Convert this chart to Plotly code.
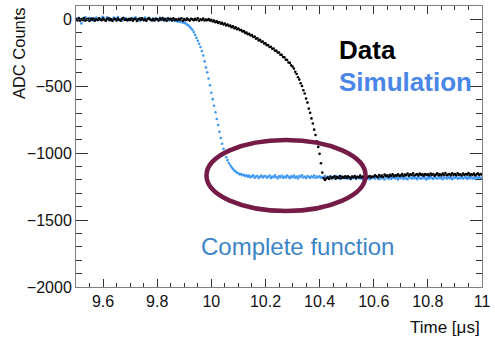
import plotly.graph_objects as go

# ---- data ----
T_START = 9.5
T_STEP = 0.005

data_counts = [
    3, -6, 8, -10, 2, -4, 10, -8, 0, 5, -12, 4, -3, 7, -9, 1, -5, 9, -2, -7,
    6, -4, -10, 3, 8, -6, 0, -11, 5, 2, -8, 7, -3, -9, 4, 10, -5, 1, -7, 3,
    -4, 7, -9, 2, 5, -12, 0, 6, -3, 9, -7, 1, -10, 4, 8, -2, -6, 3, -8, 5,
    0, -9, 6, -3, 10, -5, 2, -11, 7, -1, 4, -8, 9, -4, 1, -7, 5, -2, 8, -10,
    3, -6, 7, -2, -9, 5, 0, -7, 4, -4, 8, -10, 1, -5, 6, -8, -1, -6, 2, -9,
    -4, -16, -9, -22, -15, -27, -20, -33, -26, -38, -31, -45, -39, -50, -46, -58, -52, -66, -60, -73,
    -68, -80, -79, -91, -88, -101, -98, -111, -108, -121, -118, -132, -129, -144, -141, -157, -152, -168, -165, -180,
    -179, -193, -192, -206, -204, -220, -218, -234, -233, -248, -247, -264, -265, -282, -283, -301, -303, -322, -325, -344,
    -352, -368, -392, -408, -433, -450, -477, -498, -530, -554, -592, -622, -667, -698, -740, -778, -824, -864, -912, -953,
    -1005, -1075, -1145, -1186, -1200, -1190, -1182, -1193, -1176, -1188, -1180, -1172, -1190, -1179, -1185, -1170, -1187, -1177, -1183, -1172,
    -1185, -1172, -1180, -1189, -1174, -1182, -1170, -1186, -1176, -1181, -1168, -1184, -1175, -1179, -1171, -1186, -1177, -1170, -1182, -1174,
    -1176, -1165, -1172, -1180, -1163, -1174, -1168, -1178, -1160, -1171, -1166, -1176, -1162, -1170, -1158, -1173, -1165, -1168, -1157, -1170,
    -1166, -1155, -1170, -1160, -1164, -1152, -1168, -1158, -1163, -1150, -1167, -1161, -1155, -1166, -1153, -1162, -1158, -1169, -1156, -1163,
    -1158, -1167, -1152, -1163, -1155, -1168, -1160, -1150, -1164, -1157, -1166, -1153, -1161, -1148, -1165, -1159, -1155, -1166, -1151, -1162,
    -1156, -1165, -1150, -1161, -1158, -1167, -1152, -1163, -1155, -1160, -1149, -1164, -1157, -1162, -1153, -1166, -1158, -1151, -1163, -1156,
    -1160,
]

sim_counts = [
    5, -8, 12, -3, -30, 7, -10, 15, 2, -6, 10, -4, 8, -12, 3, 14, -7, 6, -2, 11,
    20, 4, -9, 16, -5, 9, 1, -11, 13, -3, 7, 18, -6, 2, -10, 12, -1, 8, -8, 5,
    -4, 10, -9, 6, 15, -7, 3, -12, 9, 0, -5, 13, -8, 4, 11, -2, -10, 7, -6, 9,
    2, -7, 12, -4, 8, -11, 5, -2, 10, -8, 3, -8, -5, -12, -10, -16, -14, -19, -18, -24,
    -26, -31, -38, -45, -55, -66, -78, -95, -115, -138, -160, -182, -206, -236, -270, -314, -360, -396, -442, -492,
    -548, -596, -646, -694, -744, -790, -840, -886, -930, -968, -1002, -1030, -1052, -1073, -1090, -1106, -1118, -1130, -1137, -1146,
    -1150, -1158, -1156, -1165, -1162, -1170, -1166, -1176, -1168, -1180, -1172, -1166, -1183, -1174, -1170, -1185, -1176, -1168, -1181, -1173,
    -1170, -1183, -1176, -1168, -1186, -1174, -1180, -1166, -1178, -1188, -1172, -1179, -1169, -1184, -1175, -1181, -1167, -1177, -1186, -1173,
    -1179, -1168, -1183, -1174, -1188, -1171, -1177, -1165, -1182, -1176, -1186, -1170, -1178, -1184, -1172, -1180, -1167, -1185, -1175, -1179,
    -1172, -1184, -1178, -1188, -1170, -1181, -1176, -1190, -1173, -1183, -1179, -1187, -1171, -1182, -1176, -1192, -1174, -1185, -1180, -1188,
    -1177, -1189, -1181, -1195, -1174, -1186, -1180, -1192, -1176, -1184, -1190, -1178, -1196, -1182, -1175, -1188, -1183, -1194, -1179, -1186,
    -1180, -1191, -1176, -1186, -1194, -1178, -1188, -1182, -1197, -1175, -1185, -1190, -1179, -1193, -1183, -1177, -1189, -1184, -1196, -1180,
    -1186, -1176, -1192, -1181, -1188, -1195, -1178, -1184, -1190, -1175, -1187, -1182, -1194, -1179, -1185, -1191, -1177, -1188, -1183, -1196,
    -1181, -1190, -1176, -1186, -1193, -1179, -1184, -1191, -1175, -1187, -1182, -1195, -1178, -1185, -1190, -1177, -1188, -1183, -1194, -1180,
    -1186, -1177, -1191, -1182, -1188, -1175, -1190, -1183, -1179, -1192, -1181, -1187, -1176, -1189, -1184, -1193, -1180, -1186, -1178, -1190,
    -1184,
]

time_us = [round(T_START + T_STEP * i, 3) for i in range(len(data_counts))]

x_tickvals = [9.6, 9.8, 10.0, 10.2, 10.4, 10.6, 10.8, 11.0]
x_ticktext = ["9.6", "9.8", "10", "10.2", "10.4", "10.6", "10.8", "11"]
y_tickvals = [0, -500, -1000, -1500, -2000]
y_ticktext = ["0", "\u2212500", "\u22121000", "\u22121500", "\u22122000"]

FONT = "Liberation Sans, Arial, Helvetica, sans-serif"
TICK_COLOR = "#333333"
LINE_COLOR = "#808080"

fig = go.Figure()
fig.add_trace(go.Scatter(
    x=time_us, y=sim_counts, mode="markers",
    marker=dict(size=2.6, color="#3f98f8", line=dict(width=0)),
    name="Simulation", showlegend=False,
))
fig.add_trace(go.Scatter(
    x=time_us, y=data_counts, mode="markers",
    marker=dict(size=2.6, color="#000000", line=dict(width=0)),
    name="Data", showlegend=False,
))

# highlighted region (ellipse)
fig.add_shape(type="circle", xref="x", yref="y",
              x0=9.982, x1=10.57, y0=-1432, y1=-901,
              line=dict(color="#741b47", width=4.5))

fig.add_annotation(text="<b>Data</b>", xref="paper", yref="paper",
                   x=(342 - 76) / 414, y=(287 - 50) / 281,
                   xanchor="left", yanchor="middle", showarrow=False,
                   font=dict(family=FONT, size=26, color="#000000"))
fig.add_annotation(text="<b>Simulation</b>", xref="paper", yref="paper",
                   x=(342 - 76) / 414, y=(287 - 82) / 281,
                   xanchor="left", yanchor="middle", showarrow=False,
                   font=dict(family=FONT, size=26, color="#4a86e8"))
fig.add_annotation(text="Complete function", xref="paper", yref="paper",
                   x=(201 - 76) / 414, y=(287 - 246) / 281,
                   xanchor="left", yanchor="middle", showarrow=False,
                   font=dict(family=FONT, size=24, color="#3d85c6"))
fig.add_annotation(text="ADC Counts", xref="paper", yref="paper",
                   x=(18 - 76) / 414, y=(287 - 5) / 281,
                   xanchor="center", yanchor="top", textangle=-90, showarrow=False,
                   font=dict(family=FONT, size=16.5, color="#111111"))
fig.add_annotation(text="Time [\u03bcs]", xref="paper", yref="paper",
                   x=1.0, y=(287 - 327) / 281,
                   xanchor="right", yanchor="middle", showarrow=False,
                   font=dict(family=FONT, size=17, color="#111111"))

fig.update_layout(
    width=495, height=341,
    margin=dict(l=76, r=5, t=6, b=54),
    paper_bgcolor="white", plot_bgcolor="white",
    font=dict(family=FONT, size=16, color="#111111"),
    xaxis=dict(range=[9.5, 11.0], tickmode="array", tickvals=x_tickvals, ticktext=x_ticktext,
               ticks="inside", ticklen=8, tickwidth=1, tickcolor=TICK_COLOR,
               showline=True, linecolor=LINE_COLOR, linewidth=1, mirror="ticks",
               showgrid=False, zeroline=False, ticklabeloverflow="allow",
               minor=dict(ticks="inside", ticklen=4, tick0=9.5, dtick=0.05,
                          tickcolor=TICK_COLOR, showgrid=False),
               tickfont=dict(family=FONT, size=16, color="#111111")),
    yaxis=dict(range=[-2000, 100], tickmode="array", tickvals=y_tickvals, ticktext=y_ticktext,
               ticks="inside", ticklen=12, tickwidth=1, tickcolor=TICK_COLOR,
               showline=True, linecolor=LINE_COLOR, linewidth=1, mirror="ticks",
               showgrid=False, zeroline=False, ticklabeloverflow="allow",
               minor=dict(ticks="inside", ticklen=6, tick0=0, dtick=100,
                          tickcolor=TICK_COLOR, showgrid=False),
               tickfont=dict(family=FONT, size=16, color="#111111")),
)

fig.write_html("out.html")
